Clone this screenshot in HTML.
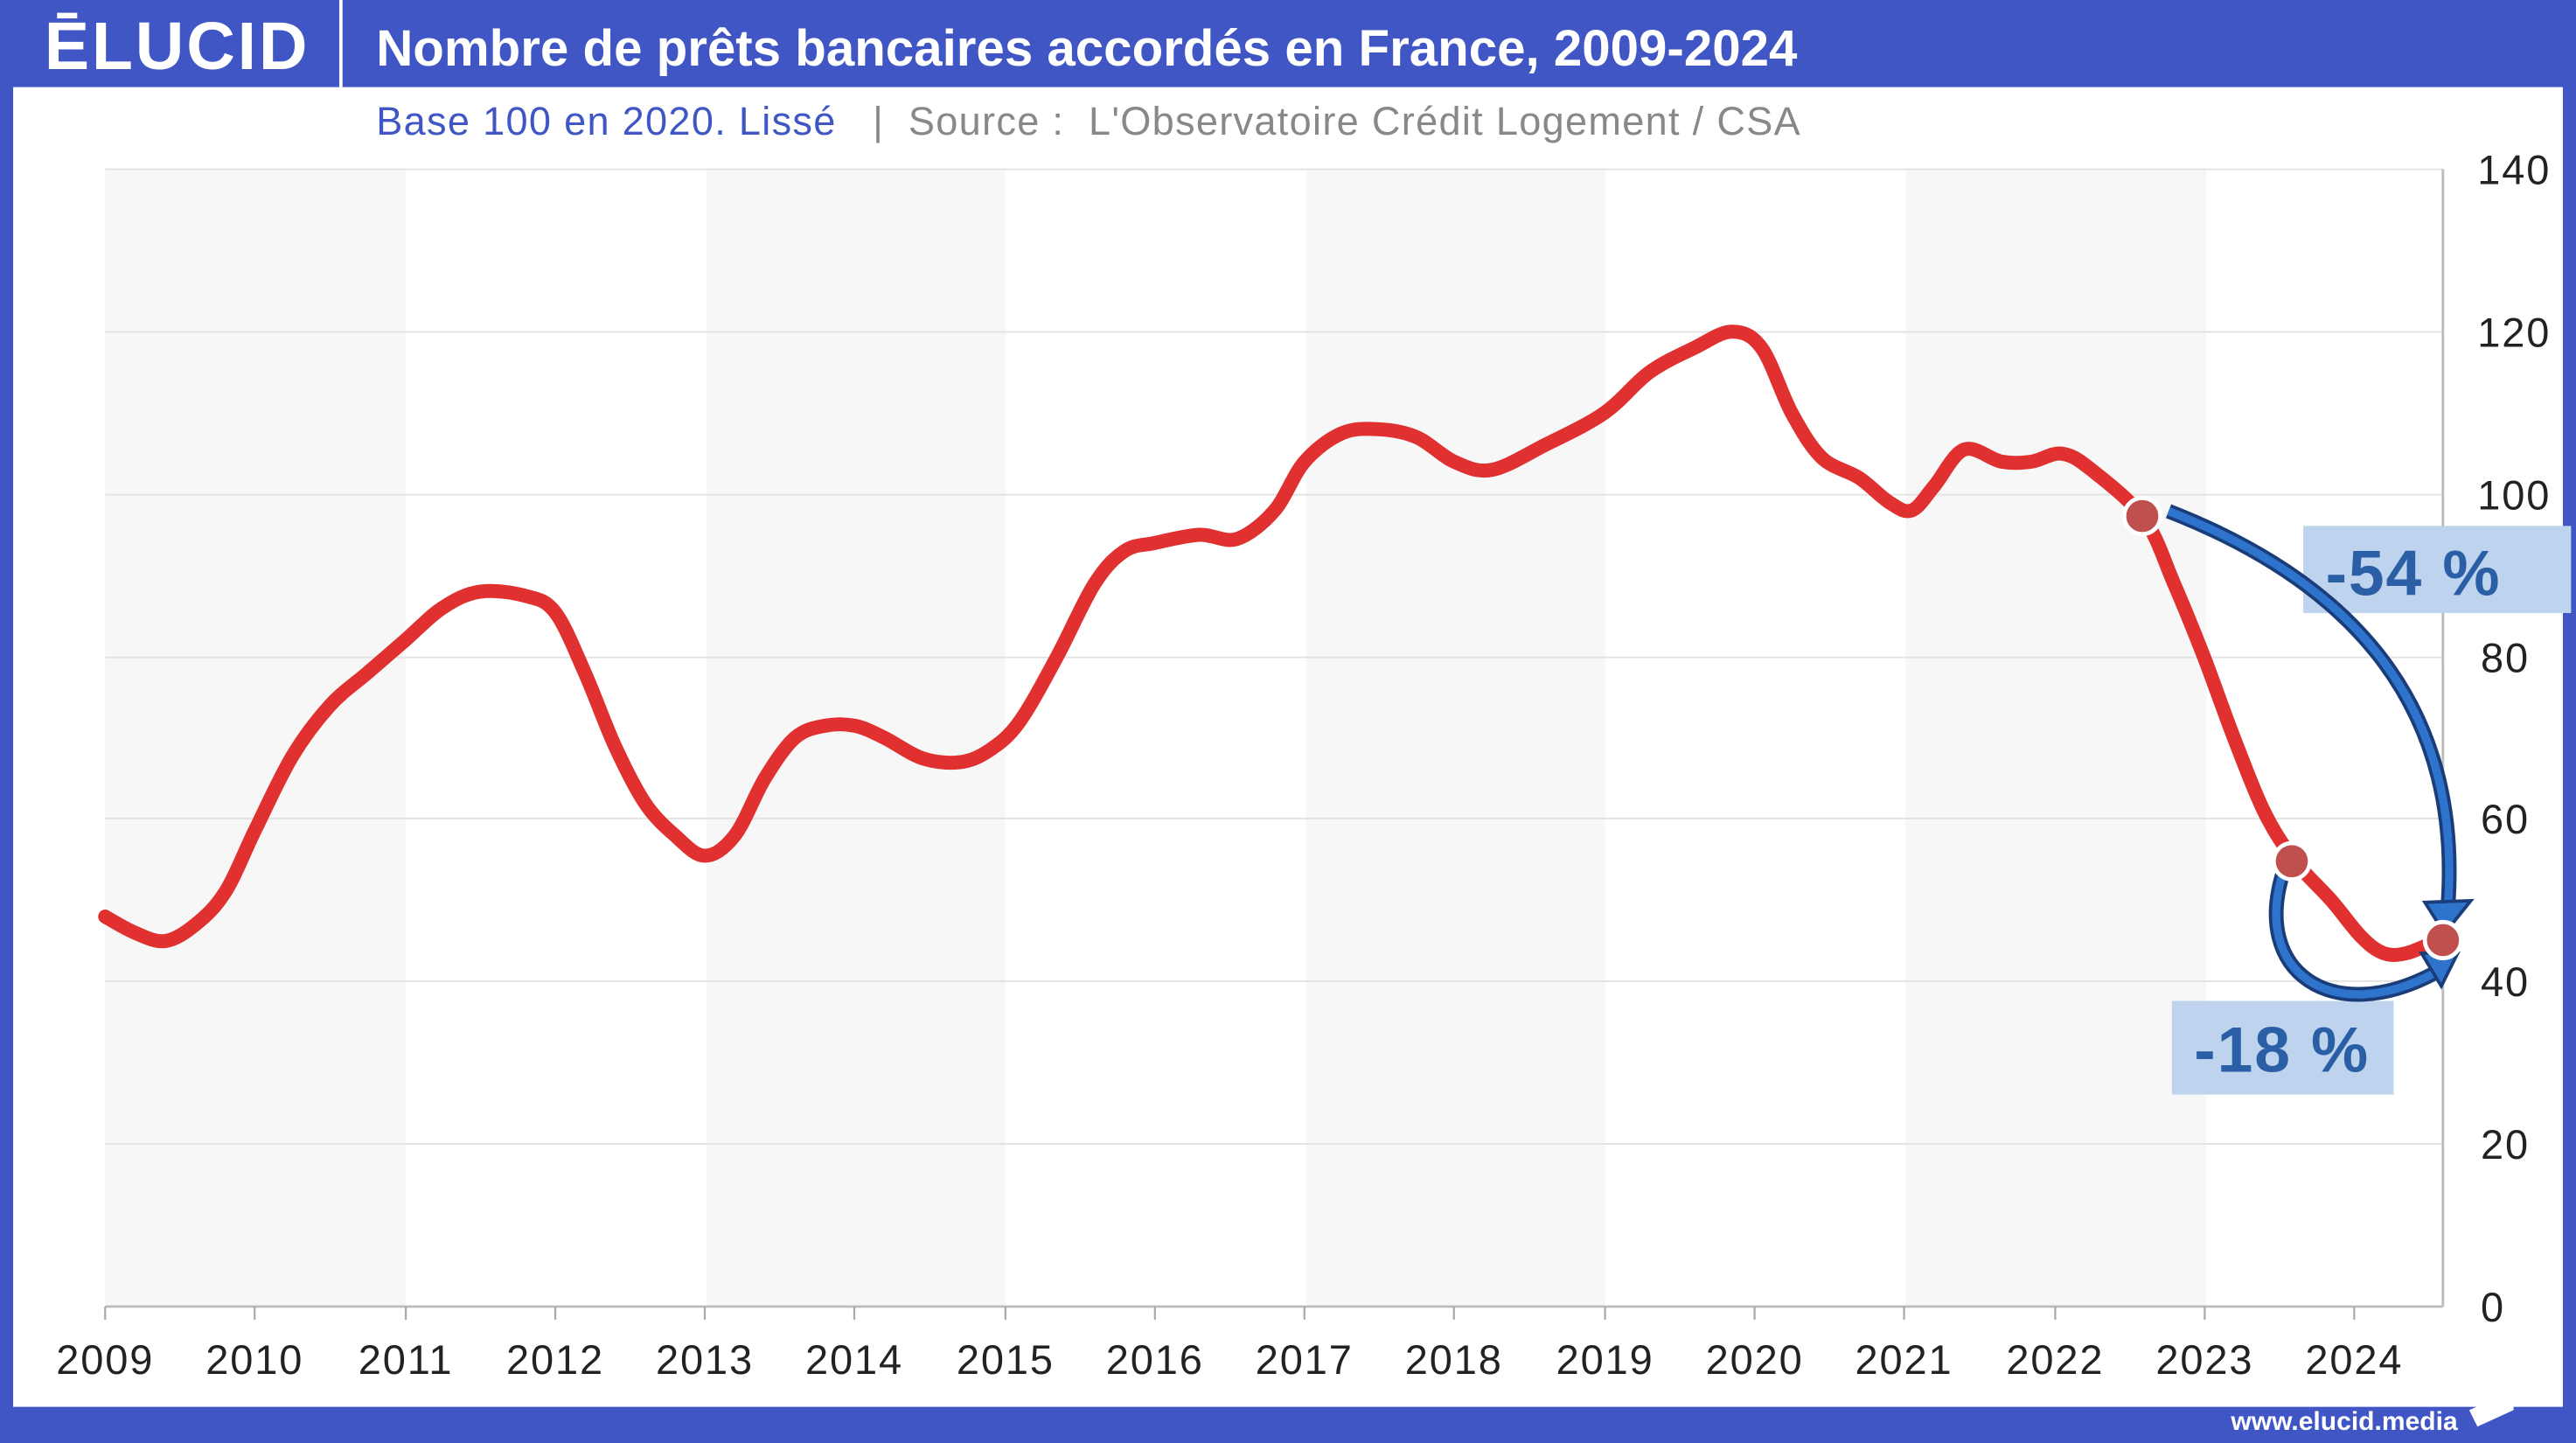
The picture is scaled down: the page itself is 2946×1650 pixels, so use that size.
<!DOCTYPE html>
<html><head><meta charset="utf-8"><style>
html,body{margin:0;padding:0;background:#fff;}
svg{display:block;}
text{font-family:"Liberation Sans",sans-serif;}
</style></head><body>
<svg width="2946" height="1650" viewBox="0 0 1568 878" preserveAspectRatio="none" xmlns="http://www.w3.org/2000/svg">
<rect x="0" y="0" width="1568" height="878" fill="#3f56c4"/>
<rect x="8" y="53" width="1552" height="803" fill="#fff"/>
<line x1="207.5" y1="0" x2="207.5" y2="53" stroke="#fff" stroke-width="2"/>
<text x="27" y="42" font-size="41" font-weight="bold" fill="#fff" letter-spacing="1.5">ĒLUCID</text>
<text x="229" y="40" font-size="31" font-weight="bold" fill="#fff">Nombre de prêts bancaires accordés en France, 2009-2024</text>
<text x="229" y="82" font-size="24" fill="#3f56c4" letter-spacing="0.7" xml:space="preserve">Base 100 en 2020. Lissé <tspan fill="#888">  |  Source :  L'Observatoire Crédit Logement / CSA</tspan></text>
<g fill="#f7f7f7">
<rect x="64" y="103" width="183" height="692"/>
<rect x="430" y="103" width="182" height="692"/>
<rect x="795" y="103" width="182" height="692"/>
<rect x="1160" y="103" width="183" height="692"/>
</g>
<g stroke="#e2e2e2" stroke-width="1">
<line x1="64" x2="1487" y1="103" y2="103"/>
<line x1="64" x2="1487" y1="202" y2="202"/>
<line x1="64" x2="1487" y1="301" y2="301"/>
<line x1="64" x2="1487" y1="400" y2="400"/>
<line x1="64" x2="1487" y1="498" y2="498"/>
<line x1="64" x2="1487" y1="597" y2="597"/>
<line x1="64" x2="1487" y1="696" y2="696"/>
</g>
<line x1="64" x2="1487" y1="795" y2="795" stroke="#bbb" stroke-width="1.5"/>
<line x1="1487" x2="1487" y1="103" y2="795" stroke="#bbb" stroke-width="1.5"/>
<g stroke="#aaa" stroke-width="1.2">
<line x1="64" x2="64" y1="795" y2="803"/><line x1="155" x2="155" y1="795" y2="803"/><line x1="247" x2="247" y1="795" y2="803"/><line x1="338" x2="338" y1="795" y2="803"/><line x1="429" x2="429" y1="795" y2="803"/><line x1="520" x2="520" y1="795" y2="803"/><line x1="612" x2="612" y1="795" y2="803"/><line x1="703" x2="703" y1="795" y2="803"/><line x1="794" x2="794" y1="795" y2="803"/><line x1="885" x2="885" y1="795" y2="803"/><line x1="977" x2="977" y1="795" y2="803"/><line x1="1068" x2="1068" y1="795" y2="803"/><line x1="1159" x2="1159" y1="795" y2="803"/><line x1="1251" x2="1251" y1="795" y2="803"/><line x1="1342" x2="1342" y1="795" y2="803"/><line x1="1433" x2="1433" y1="795" y2="803"/>
</g>
<g font-size="25" fill="#222" text-anchor="middle" letter-spacing="1">
<text x="64" y="836">2009</text><text x="155" y="836">2010</text><text x="247" y="836">2011</text><text x="338" y="836">2012</text><text x="429" y="836">2013</text><text x="520" y="836">2014</text><text x="612" y="836">2015</text><text x="703" y="836">2016</text><text x="794" y="836">2017</text><text x="885" y="836">2018</text><text x="977" y="836">2019</text><text x="1068" y="836">2020</text><text x="1159" y="836">2021</text><text x="1251" y="836">2022</text><text x="1342" y="836">2023</text><text x="1433" y="836">2024</text>
</g>
<g font-size="25" fill="#222" letter-spacing="1">
<text x="1508" y="112">140</text><text x="1508" y="211">120</text><text x="1508" y="310">100</text><text x="1510" y="409">80</text><text x="1510" y="507">60</text><text x="1510" y="606">40</text><text x="1510" y="705">20</text><text x="1510" y="804">0</text>
</g>
<polyline id="pl" fill="none" stroke="#e0302f" stroke-width="8.5" stroke-linejoin="round" stroke-linecap="round" points="64,557.7 82.3,567.6 100.5,572.6 118.8,562.7 137,542.9 155.3,505 178,460 200.9,429.2 223.7,409.4 246.5,389.7 269.3,369.9 292.1,360 319.5,362.5 337.8,372.4 356,409.4 374.3,453.9 392.5,488.5 410.8,508.3 429,520.7 447.3,508.3 465.5,473.7 483.8,449 502,441.6 520.3,441.6 538.5,449 561.3,461.3 584.1,463.8 602.4,456.4 620.6,439.1 643.4,399.6 666.3,355.1 684.5,335.3 702.8,330.4 730.1,325.4 753,327.9 775.8,310.6 794,281 816.8,263.6 839.6,261.2 862.5,266.1 885.3,281 908.1,285.9 940,271 976.5,251.3 1003.9,226.6 1031.3,211.7 1054.1,201.8 1072.3,211.7 1090.6,251.3 1108.9,278.5 1131.7,290.8 1149.9,305.6 1163.6,310.6 1177.3,295.8 1195.6,273.5 1218.4,280.9 1236.6,280.9 1254.9,276 1273.1,285.9 1305,315.5 1323.3,355.1 1341.5,399.6 1359.8,449 1378,493.5 1396.3,523.1 1419.1,547.9 1437.4,570.1 1451,580 1464.7,580 1483,572.6"/>
<path id="sm" fill="none" stroke="#e0302f" stroke-width="8.5" stroke-linejoin="round" stroke-linecap="round" d=""/>
<rect x="1402" y="320" width="163" height="53" fill="#bdd3ee"/>
<text x="1469" y="362" font-size="39" font-weight="bold" fill="#2a5fa5" text-anchor="middle" letter-spacing="1">-54 %</text>
<rect x="1322" y="609" width="135" height="57" fill="#bdd3ee"/>
<text x="1389" y="652" font-size="39" font-weight="bold" fill="#2a5fa5" text-anchor="middle" letter-spacing="1">-18 %</text>
<g fill="none" stroke-linecap="butt">
<path d="M1320,311 C1420,350 1500,420 1490,552" stroke="#1a3d7a" stroke-width="9"/>
<path d="M1320,311 C1420,350 1500,420 1490,552" stroke="#2f74cc" stroke-width="5"/>
<path d="M1390,530 C1370,592 1420,625 1482,592" stroke="#1a3d7a" stroke-width="9"/>
<path d="M1390,530 C1370,592 1420,625 1482,592" stroke="#2f74cc" stroke-width="5"/>
</g>
<polygon points="1476,549 1504,548 1488,568" fill="#2f74cc" stroke="#1a3d7a" stroke-width="2"/>
<polygon points="1474,580 1496,580 1486,600" fill="#2f74cc" stroke="#1a3d7a" stroke-width="2"/>
<g fill="#c0504d" stroke="#fff" stroke-width="2.5">
<circle cx="1304" cy="314" r="11"/><circle cx="1395" cy="524" r="11"/><circle cx="1487" cy="572" r="11"/>
</g>
<text x="1496" y="870" font-size="16" font-weight="bold" fill="#fff" text-anchor="end">www.elucid.media</text>
<polygon points="1503,858 1530,846 1530,858 1508,868" fill="#fff"/>
</svg>
<script>
(function(){
var pl=document.getElementById('pl');
var pts=pl.getAttribute('points').trim().split(/\s+/).map(function(s){return s.split(',').map(Number);});
var d='M'+pts[0][0]+','+pts[0][1];
for(var i=0;i<pts.length-1;i++){
var p0=pts[i-1]||pts[i],p1=pts[i],p2=pts[i+1],p3=pts[i+2]||p2;
var c1x=p1[0]+(p2[0]-p0[0])/6,c1y=p1[1]+(p2[1]-p0[1])/6;
var c2x=p2[0]-(p3[0]-p1[0])/6,c2y=p2[1]-(p3[1]-p1[1])/6;
d+=' C'+c1x.toFixed(1)+','+c1y.toFixed(1)+' '+c2x.toFixed(1)+','+c2y.toFixed(1)+' '+p2[0]+','+p2[1];
}
document.getElementById('sm').setAttribute('d',d);
pl.setAttribute('stroke','none');
})();
</script>
</body></html>
